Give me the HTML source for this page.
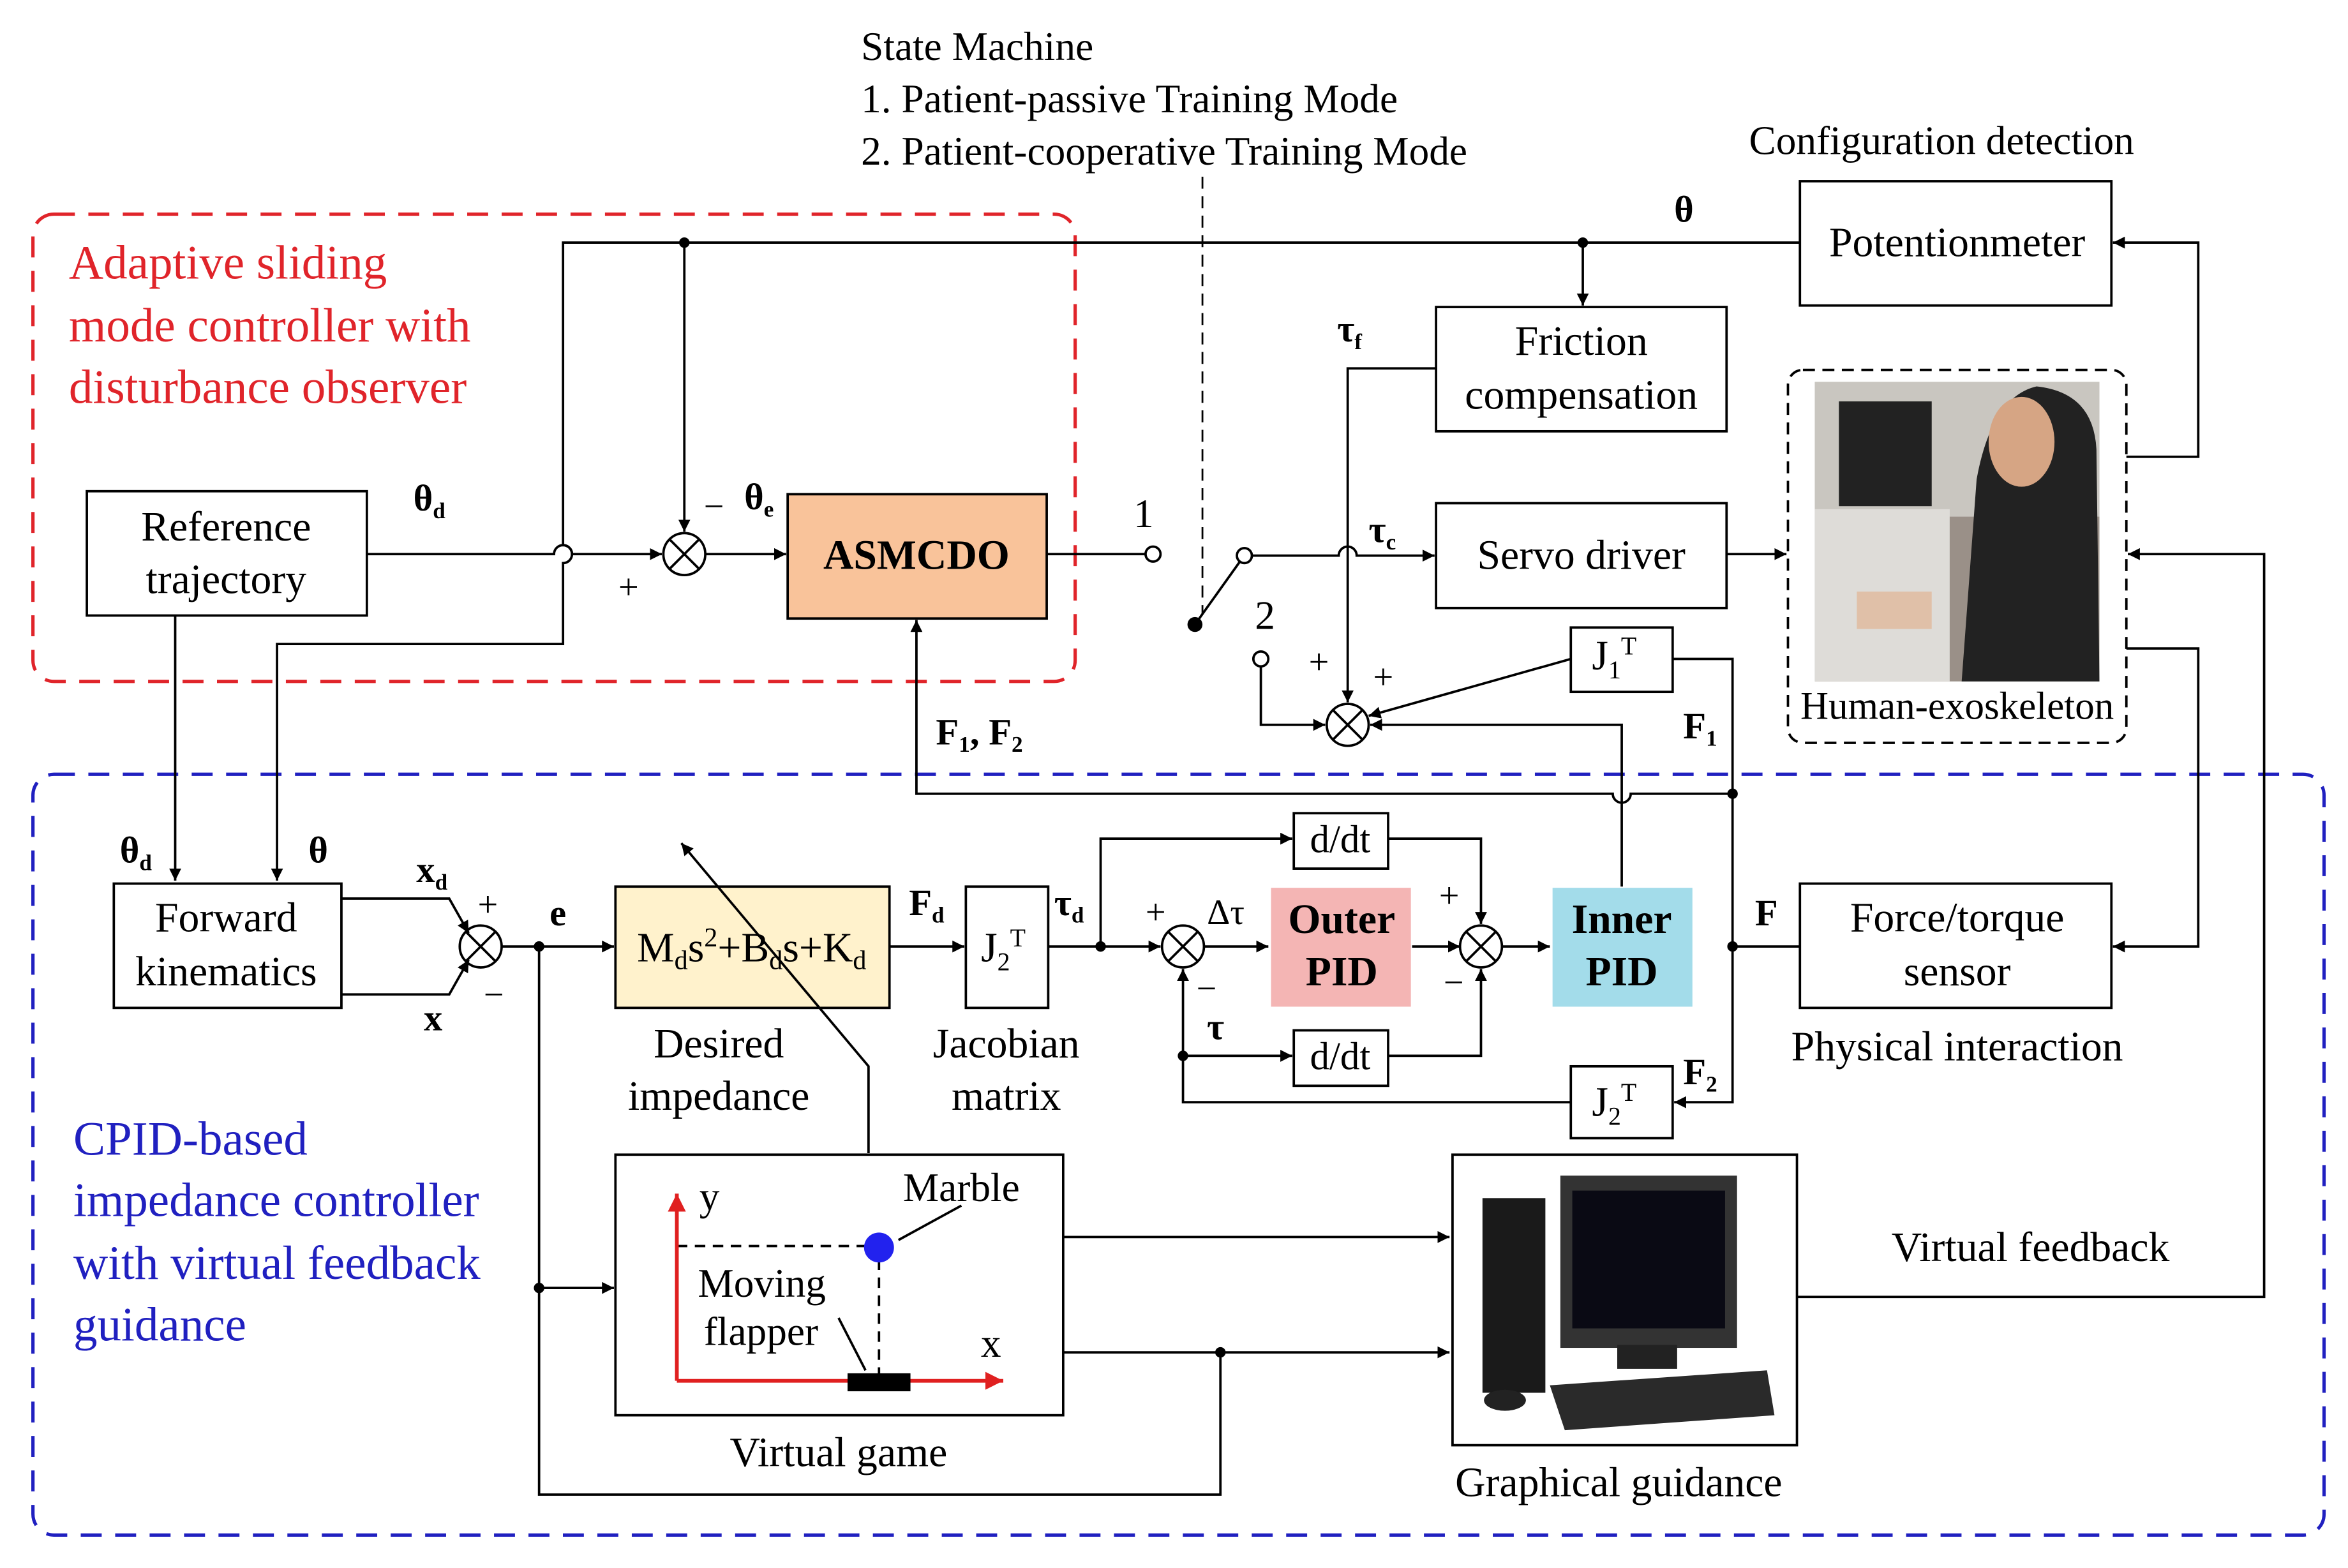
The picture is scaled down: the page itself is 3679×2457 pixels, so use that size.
<!DOCTYPE html>
<html><head><meta charset="utf-8"><style>
html,body{margin:0;padding:0;background:#fff;}
svg{display:block;}
text{font-family:"Liberation Serif",serif;}
</style></head><body>
<svg width="3679" height="2457" viewBox="0 0 1568 1047" preserveAspectRatio="none" xmlns="http://www.w3.org/2000/svg">
<defs>
<marker id="a" viewBox="0 0 10 10" refX="10" refY="5" markerWidth="8" markerHeight="8" markerUnits="userSpaceOnUse" orient="auto"><path d="M0,0L10,5L0,10z" fill="#000"/></marker>
<marker id="ar" viewBox="0 0 10 10" refX="10" refY="5" markerWidth="12" markerHeight="12" markerUnits="userSpaceOnUse" orient="auto"><path d="M0,0L10,5L0,10z" fill="#e02020"/></marker>
</defs>
<rect width="1568" height="1047" fill="#fff"/>
<g fill="none" stroke-width="2.2" stroke-dasharray="14,9">
<rect x="22" y="143" width="696" height="312" rx="14" stroke="#e0242a"/>
<rect x="22" y="517" width="1530" height="508" rx="14" stroke="#2020c0"/>
<rect x="1194" y="247" width="226" height="249" rx="10" stroke="#000" stroke-width="1.6" stroke-dasharray="8,5"/>
</g>
<g font-size="32" fill="#e0242a">
<text x="46" y="186">Adaptive sliding</text>
<text x="46" y="228">mode controller with</text>
<text x="46" y="269">disturbance observer</text>
</g>
<g font-size="32" fill="#2020c0">
<text x="49" y="771">CPID-based</text>
<text x="49" y="812">impedance controller</text>
<text x="49" y="854">with virtual feedback</text>
<text x="49" y="895">guidance</text>
</g>
<g font-size="27">
<text x="575" y="40">State Machine</text>
<text x="575" y="75">1. Patient-passive Training Mode</text>
<text x="575" y="110">2. Patient-cooperative Training Mode</text>
<text x="1168" y="103">Configuration detection</text>
</g>
<line x1="803" y1="118" x2="803" y2="410" stroke="#000" stroke-width="1.2" stroke-dasharray="8,5"/>
<g stroke="#000" stroke-width="1.6">
<rect x="1202" y="121" width="208" height="83" fill="#fff"/>
<rect x="959" y="205" width="194" height="83" fill="#fff"/>
<rect x="959" y="336" width="194" height="70" fill="#fff"/>
<rect x="58" y="328" width="187" height="83" fill="#fff"/>
<rect x="526" y="330" width="173" height="83" fill="#f9c39a"/>
<rect x="1049" y="419" width="68" height="43" fill="#fff"/>
<rect x="1202" y="590" width="208" height="83" fill="#fff"/>
<rect x="1036" y="592" width="95" height="81" fill="#a3dcea" stroke="#fff"/>
<rect x="848" y="592" width="95" height="81" fill="#f4b5b4" stroke="#fff"/>
<rect x="864" y="543" width="63" height="37" fill="#fff"/>
<rect x="864" y="688" width="63" height="37" fill="#fff"/>
<rect x="1049" y="712" width="68" height="48" fill="#fff"/>
<rect x="645" y="592" width="55" height="81" fill="#fff"/>
<rect x="411" y="592" width="183" height="81" fill="#fff2cc"/>
<rect x="76" y="590" width="152" height="83" fill="#fff"/>
<rect x="411" y="771" width="299" height="174" fill="#fff"/>
<rect x="970" y="771" width="230" height="194" fill="#fff"/>
</g>
<rect x="1212" y="255" width="190" height="200" fill="#9a9088"/>
<rect x="1212" y="255" width="190" height="90" fill="#c9c6c0"/>
<rect x="1228" y="268" width="62" height="70" fill="#222"/>
<rect x="1212" y="340" width="90" height="115" fill="#dedcd8"/>
<path d="M1310,455 L1320,320 Q1330,265 1360,258 Q1398,262 1400,300 L1402,455z" fill="#222"/>
<ellipse cx="1350" cy="295" rx="22" ry="30" fill="#d6a584"/>
<rect x="1240" y="395" width="50" height="25" fill="#e0c0a8"/>
<rect x="990" y="800" width="42" height="130" fill="#1a1a1a"/>
<rect x="1042" y="785" width="118" height="115" fill="#333"/>
<rect x="1050" y="795" width="102" height="92" fill="#0a0a14"/>
<rect x="1080" y="898" width="40" height="16" fill="#222"/>
<path d="M1035,925 L1180,915 L1185,945 L1045,955z" fill="#2a2a2a"/>
<ellipse cx="1005" cy="935" rx="14" ry="7" fill="#222"/>
<g fill="#fff" stroke="#000" stroke-width="1.6">
<circle cx="457" cy="370" r="14"/><circle cx="900" cy="484" r="14"/><circle cx="790" cy="632" r="14"/><circle cx="989" cy="632" r="14"/><circle cx="321" cy="632" r="14"/>
<circle cx="770" cy="370" r="5"/><circle cx="831" cy="371" r="5"/><circle cx="842" cy="440" r="5"/>
</g>
<g stroke="#000" stroke-width="1.6">
<path d="M447,360l20,20M467,360l-20,20M890,474l20,20M910,474l-20,20M780,622l20,20M800,622l-20,20M979,622l20,20M999,622l-20,20M311,622l20,20M331,622l-20,20"/>
</g>
<circle cx="798" cy="417" r="5" fill="#000"/>
<g fill="none" stroke="#000" stroke-width="1.6">
<path d="M1202,162H376V364a6,6 0 0 1 0,12V430H185V588" marker-end="url(#a)"/>
<path d="M457,162V355" marker-end="url(#a)"/>
<path d="M1057,162V204" marker-end="url(#a)"/>
<path d="M245,370H370a6,6 0 0 1 12,0H442" marker-end="url(#a)"/>
<path d="M471,370H525" marker-end="url(#a)"/>
<path d="M699,370H765"/>
<path d="M798,417L828,375"/>
<path d="M836,371H894a6,6 0 0 1 12,0H958" marker-end="url(#a)"/>
<path d="M959,246H900V469" marker-end="url(#a)"/>
<path d="M842,445V484H885" marker-end="url(#a)"/>
<path d="M1049,440L914,478" marker-end="url(#a)"/>
<path d="M1117,440H1157V736H1118" marker-end="url(#a)"/>
<path d="M1083,592V484H915" marker-end="url(#a)"/>
<path d="M1157,530H1089a6,6 0 0 1 -12,0H612V414" marker-end="url(#a)"/>
<path d="M1153,370H1193" marker-end="url(#a)"/>
<path d="M1420,305H1468V162H1411" marker-end="url(#a)"/>
<path d="M1420,433H1468V632H1411" marker-end="url(#a)"/>
<path d="M1200,866H1512V370H1421" marker-end="url(#a)"/>
<path d="M1202,632H1157"/>
<path d="M943,632H975" marker-end="url(#a)"/>
<path d="M1003,632H1035" marker-end="url(#a)"/>
<path d="M700,632H775" marker-end="url(#a)"/>
<path d="M735,632V560H863" marker-end="url(#a)"/>
<path d="M927,560H989V617" marker-end="url(#a)"/>
<path d="M927,705H989V647" marker-end="url(#a)"/>
<path d="M804,632H847" marker-end="url(#a)"/>
<path d="M1049,736H790V647" marker-end="url(#a)"/>
<path d="M790,705H863" marker-end="url(#a)"/>
<path d="M594,632H644" marker-end="url(#a)"/>
<path d="M335,632H410" marker-end="url(#a)"/>
<path d="M117,411V588" marker-end="url(#a)"/>
<path d="M228,600H300L313,623" marker-end="url(#a)"/>
<path d="M228,664H300L313,641" marker-end="url(#a)"/>
<path d="M360,632V998H815V903"/>
<path d="M360,860H410" marker-end="url(#a)"/>
<path d="M580,770V712L455,563" marker-end="url(#a)"/>
<path d="M710,826H968" marker-end="url(#a)"/>
<path d="M710,903H968" marker-end="url(#a)"/>
<path d="M600,828L642,805M560,880L578,915"/>
<path d="M452,832H587V918" stroke-dasharray="7,5"/>
</g>
<g fill="#000">
<circle cx="457" cy="162" r="3.5"/><circle cx="1057" cy="162" r="3.5"/><circle cx="1157" cy="530" r="3.5"/><circle cx="1157" cy="632" r="3.5"/><circle cx="735" cy="632" r="3.5"/><circle cx="790" cy="705" r="3.5"/><circle cx="360" cy="632" r="3.5"/><circle cx="360" cy="860" r="3.5"/><circle cx="815" cy="903" r="3.5"/>
</g>
<path d="M452,922H670" stroke="#e02020" stroke-width="2.5" fill="none" marker-end="url(#ar)"/>
<path d="M452,922V797" stroke="#e02020" stroke-width="2.5" fill="none" marker-end="url(#ar)"/>
<circle cx="587" cy="833" r="10" fill="#2222ee"/>
<rect x="566" y="917" width="42" height="12" fill="#000"/>
<g font-size="28" text-anchor="middle">
<text x="1307" y="171">Potentionmeter</text>
<text x="1056" y="237">Friction</text><text x="1056" y="273">compensation</text>
<text x="1056" y="380">Servo driver</text>
<text x="151" y="361">Reference</text><text x="151" y="396">trajectory</text>
<text x="612" y="380" font-weight="bold">ASMCDO</text>
<text x="1307" y="622">Force/torque</text><text x="1307" y="658">sensor</text>
<text x="1307" y="708">Physical interaction</text>
<text x="1083" y="623" font-weight="bold">Inner</text><text x="1083" y="658" font-weight="bold">PID</text>
<text x="896" y="623" font-weight="bold">Outer</text><text x="896" y="658" font-weight="bold">PID</text>
<text x="895" y="569" font-size="26">d/dt</text><text x="895" y="714" font-size="26">d/dt</text>
<text x="151" y="622">Forward</text><text x="151" y="658">kinematics</text>
<text x="480" y="706">Desired</text><text x="480" y="741">impedance</text>
<text x="672" y="706">Jacobian</text><text x="672" y="741">matrix</text>
<text x="560" y="979">Virtual game</text>
<text x="1081" y="999">Graphical guidance</text>
<text x="1356" y="842">Virtual feedback</text>
<text x="1307" y="480" font-size="26">Human-exoskeleton</text>
<text x="502" y="642">M<tspan font-size="18" dy="5">d</tspan><tspan dy="-5">s</tspan><tspan font-size="18" dy="-10">2</tspan><tspan dy="10">+B</tspan><tspan font-size="18" dy="5">d</tspan><tspan dy="-5">s+K</tspan><tspan font-size="18" dy="5">d</tspan></text>
<text x="1078" y="447">J<tspan font-size="17" dy="6">1</tspan><tspan font-size="17" dy="-16">T</tspan></text>
<text x="1078" y="745">J<tspan font-size="17" dy="6">2</tspan><tspan font-size="17" dy="-16">T</tspan></text>
<text x="670" y="642">J<tspan font-size="17" dy="6">2</tspan><tspan font-size="17" dy="-16">T</tspan></text>
</g>
<g font-size="27">
<text x="603" y="802">Marble</text>
<text x="466" y="866">Moving</text><text x="470" y="898">flapper</text>
<text x="467" y="808">y</text><text x="655" y="906">x</text>
<text x="757" y="352">1</text><text x="838" y="420">2</text>
</g>
<g font-size="25" font-weight="bold">
<text x="1118" y="148">θ</text>
<text x="893" y="228">τ<tspan font-size="15" dy="5">f</tspan></text>
<text x="914" y="362">τ<tspan font-size="15" dy="5">c</tspan></text>
<text x="276" y="341">θ<tspan font-size="15" dy="5">d</tspan></text>
<text x="497" y="340">θ<tspan font-size="15" dy="5">e</tspan></text>
<text x="625" y="497">F<tspan font-size="15" dy="5">1</tspan><tspan dy="-5">, F</tspan><tspan font-size="15" dy="5">2</tspan></text>
<text x="1124" y="493">F<tspan font-size="15" dy="5">1</tspan></text>
<text x="1124" y="724">F<tspan font-size="15" dy="5">2</tspan></text>
<text x="1172" y="618">F</text>
<text x="607" y="611">F<tspan font-size="15" dy="5">d</tspan></text>
<text x="704" y="611">τ<tspan font-size="15" dy="5">d</tspan></text>
<text x="806" y="694">τ</text>
<text x="80" y="576">θ<tspan font-size="15" dy="5">d</tspan></text>
<text x="206" y="576">θ</text>
<text x="278" y="589">x<tspan font-size="15" dy="5">d</tspan></text>
<text x="283" y="688">x</text>
<text x="367" y="618">e</text>
</g>
<g font-size="24">
<text x="470" y="346">−</text><text x="413" y="400">+</text>
<text x="874" y="450">+</text><text x="917" y="460">+</text>
<text x="765" y="617">+</text><text x="806" y="617">Δτ</text><text x="799" y="668">−</text>
<text x="961" y="606">+</text><text x="964" y="664">−</text>
<text x="319" y="612">+</text><text x="323" y="672">−</text>
</g>
</svg>
</body></html>
